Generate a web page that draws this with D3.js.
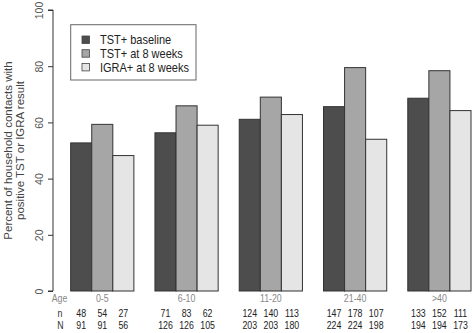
<!DOCTYPE html>
<html><head><meta charset="utf-8">
<script src="https://cdn.jsdelivr.net/npm/d3@7"></script>
<style>body{margin:0;background:#fff}svg{display:block}text{font-family:"Liberation Sans",Arial,sans-serif}</style>
</head><body><svg id="c" width="472" height="333"></svg>
<script>
const ageGroups = ["0-5","6-10","11-20","21-40",">40"];
const seriesNames = ["TST+ baseline","TST+ at 8 weeks","IGRA+ at 8 weeks"];
const nPos = [[48,54,27],[71,83,62],[124,140,113],[147,178,107],[133,152,111]];
const nTot = [[91,91,56],[126,126,105],[203,203,180],[224,224,198],[194,194,173]];
const percent = [[52.7,59.3,48.2],[56.3,65.9,59.0],[61.1,69.0,62.8],[65.6,79.5,54.0],[68.6,78.4,64.2]];
const yTicks = [0,20,40,60,80,100];
const colors = ["#4d4d4d","#a6a6a6","#e5e5e5"];

const svg = d3.select("#c");
const x = d3.scaleLinear().domain([0,20]).range([49.6,471]);
const y = d3.scaleLinear().domain([0,100]).range([291,10]);
const bw = x(1)-x(0);
const SX = 0.88;

// bars
percent.forEach((grp,g)=>{
  grp.forEach((v,i)=>{
    svg.append("rect").attr("x",x(g*4+1+i)).attr("y",y(v))
      .attr("width",bw).attr("height",y(0)-y(v))
      .attr("fill",colors[i]).attr("stroke","#333").attr("stroke-width",1);
  });
});

// y axis
const ax = svg.append("g").attr("transform","translate(53,0)")
  .call(d3.axisLeft(y).tickValues(yTicks).tickSize(5).tickFormat(d3.format("d")));
ax.select(".domain").attr("stroke","#333").attr("d",`M-5,${y(0)}H0V${y(100)}H-5`);
ax.selectAll(".tick line").attr("stroke","#333");
ax.selectAll(".tick text").attr("fill","#555").attr("font-size","10.5px")
  .attr("x",0).attr("dy",0).attr("text-anchor","middle")
  .attr("transform","translate(-10,0) rotate(-90)");
ax.attr("font-family",null);

// y title
const ttl = ["Percent of household contacts with","positive TST or IGRA result"];
ttl.forEach((t,k)=>{
  svg.append("text").attr("transform",`translate(${12+k*12},150.5) rotate(-90)`)
    .attr("text-anchor","middle").attr("font-size","11.5px").attr("fill","#444").text(t);
});

// legend
svg.append("rect").attr("x",70.7).attr("y",24.7).attr("width",125.3).attr("height",55.3)
  .attr("fill","#fff").attr("stroke","#666").attr("stroke-width",1);
const rowY = [39.8,53.5,67.2];
seriesNames.forEach((s,i)=>{
  svg.append("rect").attr("x",82).attr("y",rowY[i]-3.8).attr("width",7.5).attr("height",7.5)
    .attr("fill",colors[i]).attr("stroke","#444").attr("stroke-width",0.8);
  svg.append("text").attr("transform",`translate(100,${rowY[i]+4.3}) scale(${SX},1)`)
    .attr("font-size","12.5px").attr("fill","#222").text(s);
});

// bottom table
function htext(tx,ty,str,col,anchor){
  svg.append("text").attr("transform",`translate(${tx},${ty}) scale(${SX},1)`)
    .attr("text-anchor",anchor||"middle").attr("font-size","10px").attr("fill",col).text(str);
}
htext(59.5,302,"Age","#888");
htext(60,316.7,"n","#333");
htext(60.5,329,"N","#333");
ageGroups.forEach((a,g)=>{
  htext(x(g*4+2.5),302,a,"#888");
  nPos[g].forEach((v,i)=>htext(x(g*4+1.5+i),316.7,v,"#222"));
  nTot[g].forEach((v,i)=>htext(x(g*4+1.5+i),329,v,"#222"));
});
</script></body></html>
